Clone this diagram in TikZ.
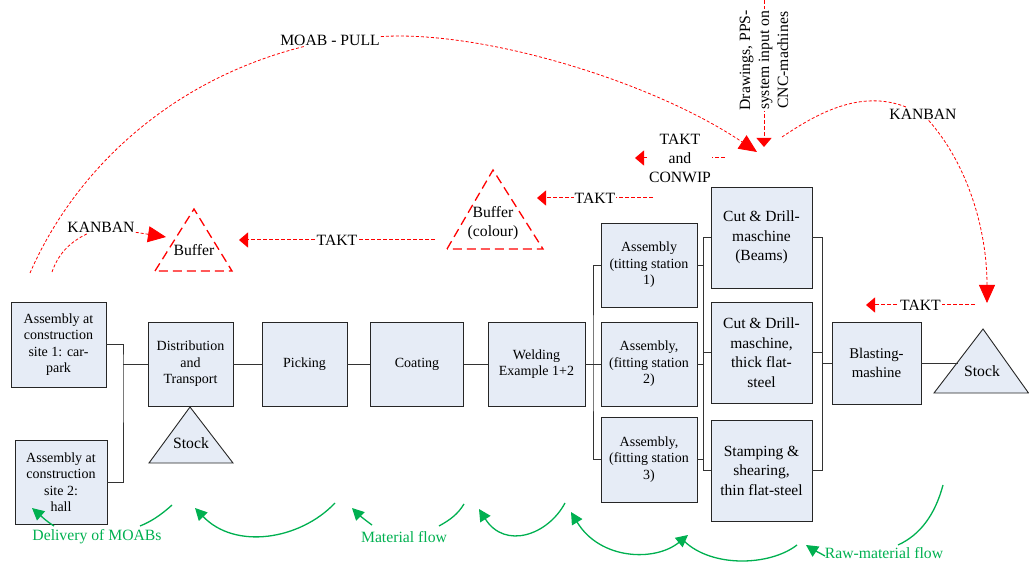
\documentclass[tikz,border=0pt]{standalone}
\usepackage{fontspec}
\setmainfont{Liberation Serif}
\usetikzlibrary{calc}
\usetikzlibrary{arrows.meta}
\usepackage{xcolor}
\definecolor{boxfill}{RGB}{230,236,246}
\definecolor{flowgreen}{RGB}{0,176,80}
\newcommand\szA{\fontsize{14}{16.5}\selectfont}
\newcommand\szB{\fontsize{15.5}{19.5}\selectfont}
\newcommand\szC{\fontsize{15.7}{19}\selectfont}
\newcommand\szD{\fontsize{14.8}{18.5}\selectfont}

\begin{document}
\begin{tikzpicture}[x=1pt,y=-1pt,
 procbox/.style={draw=black!85,fill=boxfill,line width=.9pt,align=center,inner sep=0pt},
 stocktri/.style={draw=black!85,fill=boxfill,line width=.9pt},
 wire/.style={black!80,line width=.9pt},
 sig/.style={red,line width=.8pt,dash pattern=on 3pt off 2pt},
 takt/.style={red,line width=1pt,dash pattern=on 4pt off 2pt},
 buf/.style={red,line width=1.3pt,dash pattern=on 9pt off 5pt},
 matflow/.style={flowgreen,line width=1.3pt},
 lbl/.style={fill=white,text=black,inner sep=1pt,font=\szC,align=center},
 glbl/.style={inner sep=1pt,font=\szC,text=flowgreen},
 bigtip/.style={-{Triangle[length=18pt,width=16pt]}},
 smalltip/.style={-{Triangle[length=9pt,width=15pt]}},
 gtip/.style={-{Triangle[length=12pt,width=12pt]}},
 gboth/.style={{Triangle[length=12pt,width=12pt]}-{Triangle[length=12pt,width=12pt]}}]
\useasboundingbox (0,0) rectangle (1029,564);

\node[procbox,minimum width=95pt,minimum height=85pt,font=\szA] (site1) at (58.5,344.5) {Assembly at\\construction\\site 1: car-\\park};
\node[procbox,minimum width=92pt,minimum height=84pt,font=\szA] (site2) at (61,482) {Assembly at\\construction\\site 2:\\hall};
\node[procbox,minimum width=85pt,minimum height=84pt,font=\szA] (dist) at (190.5,364) {Distribution\\and\\Transport};
\node[procbox,minimum width=85pt,minimum height=84pt,font=\szA] (pick) at (304.5,364) {Picking};
\node[procbox,minimum width=93pt,minimum height=84pt,font=\szA] (coat) at (417,364) {Coating};
\node[procbox,minimum width=97pt,minimum height=84pt,font=\szA] (weld) at (536.5,364) {Welding\\Example 1+2};
\node[procbox,minimum width=96pt,minimum height=84pt,font=\szA] (fit1) at (649,265) {Assembly\\(titting station\\1)};
\node[procbox,minimum width=96pt,minimum height=84pt,font=\szA] (fit2) at (649,364) {Assembly,\\(fitting station\\2)};
\node[procbox,minimum width=96pt,minimum height=85pt,font=\szA] (fit3) at (649,459.5) {Assembly,\\(fitting station\\3)};
\node[procbox,minimum width=101pt,minimum height=101pt,font=\szB] (cut1) at (761.5,237.5) {Cut \& Drill-\\maschine\\(Beams)};
\node[procbox,minimum width=101pt,minimum height=101pt,font=\szB] (cut2) at (761.5,352.5) {Cut \& Drill-\\maschine,\\thick flat-\\steel};
\node[procbox,minimum width=101pt,minimum height=101pt,font=\szB] (cut3) at (761.5,470.5) {Stamping \&\\shearing,\\thin flat-steel};
\node[procbox,minimum width=89pt,minimum height=82pt,font=\szD] (blast) at (876.5,363) {Blasting-\\mashine};

\draw[stocktri] (149,463) -- (190,407) -- (233,463) -- cycle;
\node[font=\szC] (stockA) at (191,443) {Stock};
\draw[stocktri] (934,393) -- (983,329) -- (1028.5,393) -- cycle;
\node[font=\szC] (stockB) at (982,371) {Stock};

\coordinate (j1) at (123,364);
\coordinate (j2) at (593,364);
\coordinate (j3) at (703,353);
\coordinate (j4) at (822,363);
\coordinate (s2in) at (957.5,363);
\draw[wire] (site1.east) -| (j1) |- (site2.east);
\draw[wire] (j1) -- (dist.west);
\draw[wire] (dist.east) -- (pick.west);
\draw[wire] (pick.east) -- (coat.west);
\draw[wire] (coat.east) -- (weld.west);
\draw[wire] (weld.east) -- (j2);
\draw[wire] (fit1.west) -| (j2) |- (fit3.west);
\draw[wire] (j2) -- (fit2.west);
\foreach \i in {1,2,3} {
 \draw[wire] (fit\i.east) -- (fit\i.east -| j3);
 \draw[wire] (cut\i.west -| j3) -- (cut\i.west);
 \draw[wire] (cut\i.east) -- (cut\i.east -| j4);
}
\draw[wire] (j3 |- cut1.west) -- (j3 |- cut3.west);
\draw[wire] (j4 |- cut1.east) -- (j4 |- cut3.east);
\draw[wire] (j4) -- (blast.west);
\draw[wire] (blast.east) -- (s2in);

\draw[buf] (155,271) -- (194,209) -- (232,271) -- cycle;
\node[font=\szC] (bufA) at (194,250) {Buffer};
\draw[buf] (447,249) -- (493,170) -- (543,249) -- cycle;
\node[font=\szC,align=center] (bufB) at (493,223) {Buffer\\(colour)};

\coordinate (tA) at (239,240);
\coordinate (tB) at (537,198);
\coordinate (tC) at (635,158);
\coordinate (tD) at (866,305);
\coordinate (tE) at (764,147);
\draw[takt,smalltip] (435,240) -- node[lbl] (taktA) {TAKT} (tA);
\draw[takt,smalltip] (653,198) -- node[lbl] (taktB) {TAKT} (tB);
\draw[takt,smalltip] (725,158) -- node[lbl] (conwip) {TAKT\\and\\CONWIP} (tC);
\draw[takt,smalltip] (975,305) -- node[lbl] (taktC) {TAKT} (tD);
\draw[takt,smalltip] (764,0) -- node[lbl,rotate=90,pos=.41] (dwg) {Drawings, PPS-\\system input on\\CNC-machines} (tE);

\node[lbl] (moab) at (330,40) {MOAB - PULL};
\coordinate (pullend) at (757,152);
\draw[sig] (30,273) .. controls (75,170) and (170,80) .. (moab);
\draw[sig,bigtip] (moab) .. controls (480,30) and (650,80) .. (pullend);

\node[lbl] (kanA) at (101,227) {KANBAN};
\coordinate (kanAend) at (166,237);
\draw[sig] (52,272) .. controls (58,255) and (68,243) .. (kanA);
\draw[sig,bigtip] (kanA) -- (kanAend);

\node[lbl] (kanB) at (923,114) {KANBAN};
\coordinate (kanBend) at (987,303);
\draw[sig] (782,137) .. controls (815,115) and (860,88) .. (kanB);
\draw[sig,bigtip] (kanB) .. controls (968,165) and (987,230) .. (kanBend);

\node[glbl] (deliv) at (97,537) {Delivery of MOABs};
\node[glbl] (matfl) at (404,537) {Material flow};
\node[glbl] (rawfl) at (884,553) {Raw-material flow};
\draw[matflow] (172,505) .. controls (160,516) and (150,522) .. (140,526);
\draw[matflow,gtip] (54,526) .. controls (46,521) and (40,515) .. (32,508);
\draw[matflow,gtip] (335,503) .. controls (300,540) and (235,550) .. (195,508);
\draw[matflow] (464,504) .. controls (458,514) and (450,520) .. (439,526);
\draw[matflow,gtip] (372,525) .. controls (365,520) and (358,514) .. (352,508);
\draw[matflow,gtip] (565,503) .. controls (548,535) and (505,550) .. (479,509);
\draw[matflow,gboth] (571,512) .. controls (600,560) and (655,562) .. (688,535);
\draw[matflow] (797,545) .. controls (770,566) and (712,568) .. (684,541);
\draw[matflow] (943,485) .. controls (935,515) and (920,535) .. (898,545);
\draw[matflow,gtip] (825,556) .. controls (818,552) and (812,549) .. (806,545);
\end{tikzpicture}
\end{document}
